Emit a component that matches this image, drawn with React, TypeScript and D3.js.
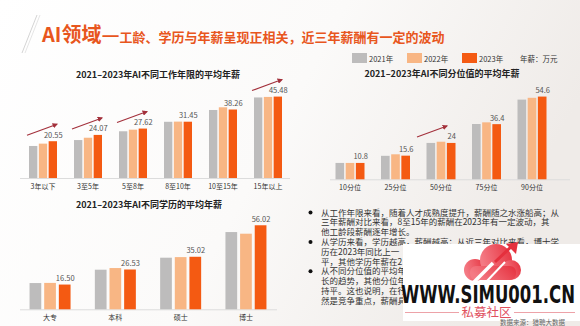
import React from 'react';
import * as d3 from 'd3';

const seriesNames = ['2021年', '2022年', '2023年'];
const colors = ['#bdbcbc', '#f8b684', '#f45a12'];

const tenureCats = ['3年以下', '3至5年', '5至8年', '8至10年', '10至15年', '15年以上'];
const tenure2021 = [17.9, 21.2, 26.1, 31.4, 38.0, 45.0];
const tenure2022 = [19.2, 22.5, 27.0, 31.5, 39.5, 45.3];
const tenure2023 = [20.55, 24.07, 27.62, 31.45, 38.26, 45.48];
const tenureLabels = ['20.55', '24.07', '27.62', '31.45', '38.26', '45.48'];
const tenureArrows = [true, true, true, false, false, true];

const pctCats = ['10分位', '25分位', '50分位', '75分位', '90分位'];
const pct2021 = [10.8, 15.5, 24.0, 36.5, 52.6];
const pct2022 = [10.8, 16.5, 24.8, 37.6, 53.8];
const pct2023 = [10.8, 15.6, 24, 36.4, 54.6];
const pctLabels = ['10.8', '15.6', '24', '36.4', '54.6'];
const pctArrows = [false, false, true, false, false];

const eduCats = ['大专', '本科', '硕士', '博士'];
const edu2021 = [17.5, 26.4, 34.4, 51.5];
const edu2022 = [17.6, 27.5, 34.8, 50.4];
const edu2023 = [16.5, 26.53, 35.02, 56.02];
const eduLabels = ['16.50', '26.53', '35.02', '56.02'];

// visible parts of the commentary (the rest is hidden under the watermark in the source)
const bodyLines = [
  { bullet: true, text: '从工作年限来看，随着人才成熟度提升，薪酬随之水涨船高；从' },
  { bullet: false, text: '三年薪酬对比来看，8至15年的薪酬在2023年有一定波动，其' },
  { bullet: false, text: '他工龄段薪酬逐年增长。' },
  { bullet: true, text: '从学历来看，学历越高，薪酬越高；从近三年对比来看，博士学' },
  { bullet: false, text: '历在2023年同比上一' },
  { bullet: false, text: '平，其他学历年薪在2' },
  { bullet: true, text: '从不同分位值的平均年' },
  { bullet: false, text: '长的趋势，其他分位年' },
  { bullet: false, text: '持平。这也说明，在行' },
  { bullet: false, text: '然是竞争重点，薪酬具' },
];

const FONT = '"Noto Sans CJK SC", "Noto Sans", sans-serif';

type ChartProps = {
  title: string;
  titleX: number;
  titleY: number;
  cats: string[];
  series: number[][];
  labels: string[];
  arrows: boolean[];
  range: [number, number];
  baseline: number;
  pxPerUnit: number;
  groupWidth: number;
  innerPad: number;
  axisX: [number, number];
  arrowDx: [number, number];
};

function BarChart(p: ChartProps) {
  const x = d3.scaleBand<string>().domain(p.cats).range(p.range).padding(0);
  const yMax = 60;
  const y = d3.scaleLinear().domain([0, yMax]).range([p.baseline, p.baseline - yMax * p.pxPerUnit]);
  const inner = d3
    .scaleBand<number>()
    .domain(d3.range(p.series.length))
    .range([-p.groupWidth / 2, p.groupWidth / 2])
    .paddingInner(p.innerPad)
    .paddingOuter(0);
  const last = p.series[p.series.length - 1];
  return (
    <g>
      <text x={p.titleX} y={p.titleY} textAnchor="middle" fontSize={9} fontWeight="bold" fill="#222" fontFamily={FONT}>
        {p.title}
      </text>
      <line x1={p.axisX[0]} x2={p.axisX[1]} y1={p.baseline + 0.5} y2={p.baseline + 0.5} stroke="#dcdcdc" strokeWidth={1} />
      {p.cats.map((c, i) => {
        const cx = (x(c) as number) + x.bandwidth() / 2;
        const topLast = y(last[i]);
        return (
          <g key={c}>
            {p.series.map((s, k) => (
              <rect
                key={k}
                x={cx + (inner(k) as number)}
                y={y(s[i])}
                width={inner.bandwidth()}
                height={p.baseline - y(s[i])}
                fill={colors[k]}
              />
            ))}
            <text
              x={cx + (inner(p.series.length - 1) as number) + inner.bandwidth() / 2 + 0.5}
              y={topLast - 3.5}
              textAnchor="middle"
              fontSize={7.5}
              fill="#555"
              fontFamily={FONT}
            >
              {p.labels[i]}
            </text>
            <text x={cx} y={p.baseline + 11} textAnchor="middle" fontSize={7} fill="#333" fontFamily={FONT}>
              {c}
            </text>
            {p.arrows[i] && (
              <line
                x1={cx + p.arrowDx[0]}
                y1={topLast - 6}
                x2={cx + p.arrowDx[1]}
                y2={topLast - 17}
                stroke="#a3303b"
                strokeWidth={1.1}
                markerEnd="url(#arrowHead)"
              />
            )}
          </g>
        );
      })}
    </g>
  );
}

export default function App() {
  const legendX = [352, 407, 462];
  return (
    <svg
      width={580}
      height={326}
      viewBox="0 0 580 326"
      style={{ position: 'absolute', left: 0, top: 0, display: 'block' }}
      fontFamily={FONT}
    >
      <defs>
        <linearGradient id="bg" x1="0" y1="0" x2="1" y2="0.3">
          <stop offset="0" stopColor="#ffffff" />
          <stop offset="0.55" stopColor="#fbfaf9" />
          <stop offset="1" stopColor="#efebe8" />
        </linearGradient>
        <marker id="arrowHead" viewBox="0 0 10 10" refX="8" refY="5" markerWidth="5" markerHeight="5" orient="auto">
          <path d="M0,0 L10,5 L0,10 z" fill="#a3303b" />
        </marker>
        <linearGradient id="cloud" x1="0" y1="0.3" x2="1" y2="0">
          <stop offset="0" stopColor="#f47a84" />
          <stop offset="1" stopColor="#e5303d" />
        </linearGradient>
      </defs>
      <rect x={0} y={0} width={580} height={326} fill="url(#bg)" />

      {/* decorative slashes */}
      <line x1={37} y1={15} x2={22} y2={53} stroke="#c9c9c9" strokeWidth={0.8} />
      <line x1={40} y1={15} x2={25} y2={53} stroke="#dedede" strokeWidth={0.8} />

      {/* main title */}
      <text x={42} y={42} fill="#e8561d" fontWeight="bold" fontFamily={FONT}>
        <tspan fontSize={20}>AI领域—</tspan>
        <tspan fontSize={13}>工龄、学历与年薪呈现正相关，近三年薪酬有一定的波动</tspan>
      </text>

      {/* legend */}
      {seriesNames.map((n, k) => (
        <g key={n}>
          <rect x={legendX[k]} y={53} width={15} height={10} fill={colors[k]} />
          <text x={legendX[k] + 17} y={61.5} fontSize={7.5} fill="#333">
            {n}
          </text>
        </g>
      ))}
      <text x={520} y={61.5} fontSize={7.5} fill="#333">
        年薪：万元
      </text>

      <BarChart
        title="2021–2023年AI不同工作年限的平均年薪"
        titleX={158}
        titleY={78}
        cats={tenureCats}
        series={[tenure2021, tenure2022, tenure2023]}
        labels={tenureLabels}
        arrows={tenureArrows}
        range={[20.5, 290.5]}
        baseline={178}
        pxPerUnit={1.79}
        groupWidth={28}
        innerPad={0.15}
        axisX={[20, 290]}
        arrowDx={[-16, 14]}
      />
      <BarChart
        title="2021–2023年AI不同分位值的平均年薪"
        titleX={442}
        titleY={77}
        cats={pctCats}
        series={[pct2021, pct2022, pct2023]}
        labels={pctLabels}
        arrows={pctArrows}
        range={[327.25, 554.75]}
        baseline={179.3}
        pxPerUnit={1.515}
        groupWidth={29}
        innerPad={0.15}
        axisX={[330, 570]}
        arrowDx={[-24, 6]}
      />
      <BarChart
        title="2021–2023年AI不同学历的平均年薪"
        titleX={149}
        titleY={208}
        cats={eduCats}
        series={[edu2021, edu2022, edu2023]}
        labels={eduLabels}
        arrows={[false, false, false, false]}
        range={[17.4, 278.6]}
        baseline={309.3}
        pxPerUnit={1.5}
        groupWidth={41}
        innerPad={0.2}
        axisX={[20, 277]}
        arrowDx={[0, 0]}
      />

      {/* body text */}
      {bodyLines.map((l, i) => (
        <g key={i}>
          {l.bullet && <circle cx={310.5} cy={212.5 + i * 9.8} r={2} fill="#111" />}
          <text x={321} y={215.5 + i * 9.8} fontSize={8.5} fill="#333">
            {l.text}
          </text>
        </g>
      ))}

      {/* watermark overlay */}
      <rect x={403} y={244} width={177} height={77} fill="#ffffff" />
      <g>
        <circle cx={475} cy={270} r={11} fill="url(#cloud)" />
        <circle cx={496} cy={260} r={16} fill="url(#cloud)" />
        <circle cx={511} cy={270} r={10} fill="url(#cloud)" />
        <rect x={470} y={266} width={46} height={14} rx={6} fill="url(#cloud)" />
        <path d="M472,284 L493,263" stroke="#ffffff" strokeWidth={3.5} fill="none" />
        <path d="M486,282 L505,262" stroke="#ffffff" strokeWidth={2} fill="none" />
        <path d="M495,262 L512,246" stroke="#e5303d" strokeWidth={3} fill="none" />
        <path d="M506,244 L518,242 L516,254 z" fill="#e5303d" />
      </g>
      <text
        x={401}
        y={303}
        fontSize={24}
        fontWeight="bold"
        fill="#111"
        fontFamily='"DejaVu Sans", sans-serif'
        textLength={174}
        lengthAdjust="spacingAndGlyphs"
      >
        WWW.SIMU001.CN
      </text>
      <line x1={405} x2={459} y1={312.5} y2={312.5} stroke="#e88a92" strokeWidth={0.8} />
      <line x1={514} x2={575} y1={312.5} y2={312.5} stroke="#e88a92" strokeWidth={0.8} />
      <text x={486.5} y={317} textAnchor="middle" fontSize={12.5} fill="#e0505e">
        私募社区
      </text>
      <text x={500} y={325} fontSize={6.5} fill="#666">
        数据来源：猎聘大数据
      </text>
    </svg>
  );
}
